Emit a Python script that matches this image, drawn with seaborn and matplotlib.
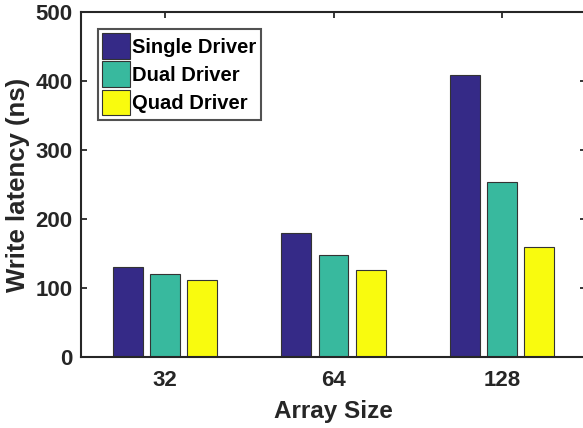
import matplotlib
matplotlib.use("Agg")
import matplotlib.pyplot as plt
import seaborn as sns
import pandas as pd

# Write latency per array size for each driver configuration
array_sizes = ["32", "64", "128"]
drivers = ["Single Driver", "Dual Driver", "Quad Driver"]
single_driver = [130, 179, 409]
dual_driver = [120, 148, 253]
quad_driver = [111, 126, 159]
y_ticks = [0, 100, 200, 300, 400, 500]

df = pd.DataFrame({
    "Array Size": array_sizes * 3,
    "Driver": [d for d in drivers for _ in array_sizes],
    "Latency": single_driver + dual_driver + quad_driver,
})

sns.set_theme(style="white")
plt.rcParams["font.family"] = ["Liberation Sans", "DejaVu Sans"]
plt.rcParams["font.weight"] = "bold"

text_color = "#262626"
palette = ["#352A87", "#38B99E", "#F9FB0E"]

fig = plt.figure(figsize=(5.83, 4.28), dpi=100)
ax = fig.add_axes([81 / 583, 1 - 357 / 428, 505 / 583, 345 / 428])

sns.barplot(data=df, x="Array Size", y="Latency", hue="Driver",
            order=array_sizes, hue_order=drivers, palette=palette,
            width=0.663, gap=0.195, saturation=1, errorbar=None,
            edgecolor="#333333", linewidth=0.8, ax=ax)

ax.set_xlim(-0.5, 2.5)
ax.set_ylim(0, 500)
ax.set_yticks(y_ticks)
ax.set_yticklabels([str(v) for v in y_ticks])

for side in ["left", "right", "top", "bottom"]:
    ax.spines[side].set_visible(True)
    ax.spines[side].set_linewidth(1.5)
    ax.spines[side].set_color(text_color)

ax.tick_params(axis="both", which="major", direction="in", length=4, width=1.3,
               color=text_color, labelsize=16, labelcolor=text_color,
               top=True, right=True, bottom=True, left=True)
ax.tick_params(axis="x", pad=9)
ax.tick_params(axis="y", pad=6)
for lbl in ax.get_xticklabels() + ax.get_yticklabels():
    lbl.set_fontweight("bold")

ax.set_xlabel("Array Size", fontsize=17.5, fontweight="bold", color=text_color, labelpad=6.5)
ax.set_ylabel("Write latency (ns)", fontsize=18.5, fontweight="bold", color=text_color, labelpad=4)

leg = ax.legend(loc="upper left", bbox_to_anchor=(17 / 505, 1 - 17 / 345),
                frameon=True, fancybox=False,
                handlelength=1.4, handleheight=1.6, handletextpad=0.1,
                labelspacing=0.12, borderpad=0.2, borderaxespad=0,
                prop={"weight": "bold", "size": 14.5})
leg.get_frame().set_edgecolor(text_color)
leg.get_frame().set_linewidth(1.5)
for t in leg.get_texts():
    t.set_color("black")

fig.savefig("out.png", dpi=100)
